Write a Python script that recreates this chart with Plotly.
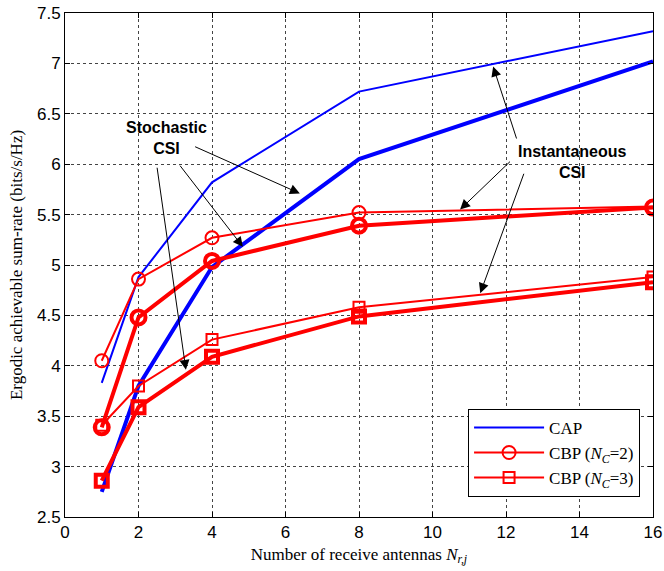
import plotly.graph_objects as go

x = [1, 2, 4, 8, 16]
cap_inst = [3.83, 4.88, 5.82, 6.72, 7.32]
cap_stoch = [2.75, 3.80, 4.98, 6.05, 7.02]
cbp2_inst = [4.05, 4.86, 5.27, 5.52, 5.58]
cbp2_stoch = [3.39, 4.48, 5.04, 5.39, 5.57]
cbp3_inst = [3.41, 3.80, 4.26, 4.58, 4.88]
cbp3_stoch = [2.86, 3.59, 4.09, 4.49, 4.83]

y_ticks = [2.5, 3, 3.5, 4, 4.5, 5, 5.5, 6, 6.5, 7, 7.5]
y_ticktext = ["2.5", "3", "3.5", "4", "4.5", "5", "5.5", "6", "6.5", "7", "7.5"]
x_ticks = [0, 2, 4, 6, 8, 10, 12, 14, 16]

BLUE = "#0000ff"
RED = "#ff0000"

fig = go.Figure()
fig.add_trace(go.Scatter(x=x, y=cap_inst, mode="lines", line=dict(color=BLUE, width=2),
                         name="CAP", showlegend=True))
fig.add_trace(go.Scatter(x=x, y=cap_stoch, mode="lines", line=dict(color=BLUE, width=4),
                         showlegend=False))
fig.add_trace(go.Scatter(x=x, y=cbp2_inst, mode="lines+markers", line=dict(color=RED, width=2),
                         marker=dict(symbol="circle-open", size=13, color=RED, line=dict(width=2)),
                         name="CBP (<i>N</i><sub><i>C</i></sub>=2)"))
fig.add_trace(go.Scatter(x=x, y=cbp2_stoch, mode="lines+markers", line=dict(color=RED, width=4),
                         marker=dict(symbol="circle-open", size=14, color=RED, line=dict(width=4)),
                         showlegend=False))
fig.add_trace(go.Scatter(x=x, y=cbp3_inst, mode="lines+markers", line=dict(color=RED, width=2),
                         marker=dict(symbol="square-open", size=11, color=RED, line=dict(width=2)),
                         name="CBP (<i>N</i><sub><i>C</i></sub>=3)"))
fig.add_trace(go.Scatter(x=x, y=cbp3_stoch, mode="lines+markers", line=dict(color=RED, width=4),
                         marker=dict(symbol="square-open", size=12, color=RED, line=dict(width=4)),
                         showlegend=False))

annots = []
txtfont = dict(family="Arial", size=16, color="black")
annots.append(dict(x=2.75, y=6.26, xref="x", yref="y", text="<b>Stochastic<br>CSI</b>",
                   showarrow=False, font=txtfont, align="center"))
annots.append(dict(x=13.8, y=6.02, xref="x", yref="y", text="<b>Instantaneous<br>CSI</b>",
                   showarrow=False, font=txtfont, align="center"))
arrows = [
    ((3.5, 6.18), (6.39, 5.71)),
    ((3.1, 6.0), (4.84, 5.18)),
    ((2.5, 5.98), (3.29, 3.96)),
    ((12.3, 6.24), (11.65, 6.97)),
    ((12.15, 6.04), (10.75, 5.55)),
    ((12.5, 5.92), (11.3, 4.72)),
]
for (sx, sy), (ex, ey) in arrows:
    annots.append(dict(x=ex, y=ey, ax=sx, ay=sy, xref="x", yref="y", axref="x", ayref="y",
                       text="", showarrow=True, arrowhead=2, arrowsize=2, arrowwidth=1,
                       arrowcolor="black", standoff=0))

fig.update_layout(
    width=664, height=571,
    margin=dict(l=65, r=11, t=13, b=54),
    paper_bgcolor="white", plot_bgcolor="white",
    font=dict(family="Liberation Serif", size=15, color="black"),
    annotations=annots,
    legend=dict(x=0.978, y=0.04, xanchor="right", yanchor="bottom",
                bordercolor="black", borderwidth=1, bgcolor="white",
                font=dict(family="Liberation Serif", size=17), tracegroupgap=0,
                itemwidth=70),
    showlegend=True,
)
axis_common = dict(showline=True, linecolor="black", linewidth=1, mirror="ticks",
                   ticks="inside", ticklen=5, tickcolor="black", automargin=False,
                   showgrid=True, gridcolor="#444", griddash="dot", gridwidth=1,
                   zeroline=False, tickfont=dict(family="Arial", size=17))
fig.update_xaxes(range=[0, 16], tickvals=x_ticks,
                 title=dict(text="Number of receive antennas <i>N</i><sub><i>r,j</i></sub>",
                            font=dict(family="Liberation Serif", size=17), standoff=6), **axis_common)
fig.update_yaxes(range=[2.5, 7.5], tickvals=y_ticks, ticktext=y_ticktext,
                 title=dict(text="Ergodic achievable sum-rate (bits/s/Hz)",
                            font=dict(family="Liberation Serif", size=17), standoff=10), **axis_common)

fig.write_html("out.html")
